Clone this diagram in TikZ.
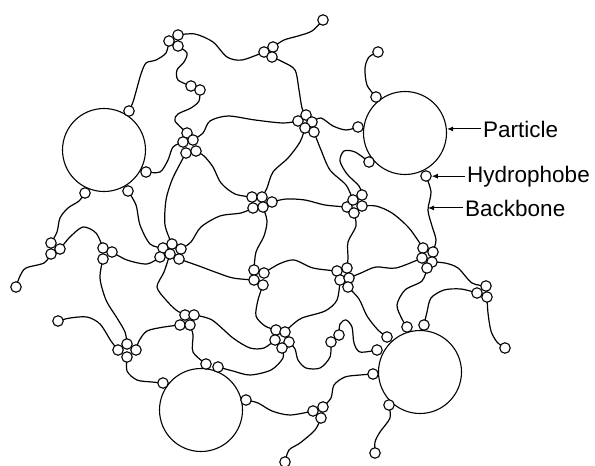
\documentclass[tikz,border=0pt]{standalone}
\usepackage{fontspec}
\setmainfont{Liberation Sans}
\usepackage{tikz}
\usetikzlibrary{arrows.meta,backgrounds}

\tikzset{
    hyd/.style={circle, draw, fill=white, line width=1.1pt, inner sep=0pt, minimum size=10.5pt},
    particle/.style={circle, draw, fill=white, line width=1.1pt, inner sep=0pt, minimum size=83pt},
    chain/.style={line width=1.2pt, line join=round, line cap=round},
    lbl/.style={anchor=base west, inner sep=0pt, font=\fontsize{22.5}{26}\selectfont},
    ptr/.style={line width=1pt, -{Latex[length=6pt,width=5pt]}}
}

\begin{document}
\begin{tikzpicture}[x=1pt, y=-1pt]
    \useasboundingbox (0,0) rectangle (595,466);

    % particles
    \node[particle] (pA) at (104,150) {};
    \node[particle] (pB) at (405,133) {};
    \node[particle] (pC) at (201,410) {};
    \node[particle] (pD) at (420,372) {};

    % hydrophobes stuck on the particles
    \foreach \n/\x/\y in {a1/129/111, a2/146/172, a3/85/193, a4/128/191,
                          b1/376/97, b2/358/127, b3/369/162, b4/426/176,
                          c1/163/383, c2/206/364, c3/218/367, c4/246/400,
                          d1/387/337, d2/407/327, d3/424/325, d4/377/350, d5/373/374, d6/389/405}
        \node[hyd] (\n) at (\x,\y) {};

    % dangling chain ends
    \foreach \n/\x/\y in {e1/323/20, e2/378/52, e3/16/287, e4/58/321,
                          e5/505/348, e6/375/453, e7/285/462}
        \node[hyd] (\n) at (\x,\y) {};

    % micelle junctions
    \foreach \n/\x/\y in {m1a/169/41, m1b/178/35, m1c/178/46,
                          m2a/264/52, m2b/273/47, m2c/272/57,
                          m3a/191/86, m3b/200/90,
                          m4a/187/133, m4b/183/142, m4c/193/140, m4d/186/153, m4e/196/151,
                          m5a/252/197, m5b/262/197, m5c/272/202, m5d/253/208, m5e/263/207,
                          m6a/298/121, m6b/306/115, m6c/312/122, m6d/305/128, m6e/314/132,
                          m7a/347/207, m7b/353/200, m7c/362/195, m7d/362/206, m7e/354/213,
                          m8a/163/248, m8b/172/244, m8c/181/249, m8d/170/254, m8e/179/259, m8f/160/257,
                          m9a/103/248, m9b/112/252, m9c/103/259,
                          m10a/51/243, m10b/60/249, m10c/51/254,
                          m11a/185/315, m11b/194/315, m11c/180/325, m11d/190/325,
                          m12a/254/270, m12b/264/273, m12c/254/280, m12d/263/285,
                          m13a/276/330, m13b/285/332, m13c/275/340, m13d/289/342, m13e/282/348,
                          m14a/118/350, m14b/127/344, m14c/136/350, m14d/127/357,
                          m15a/337/271, m15b/347/268, m15c/340/280, m15d/349/278, m15e/348/287,
                          m16a/331/342, m16b/339/335,
                          m17a/423/248, m17b/433/252, m17c/422/258, m17d/432/262, m17e/427/268,
                          m18a/477/293, m18b/486/286, m18c/487/297,
                          m19a/313/411, m19b/323/407, m19c/321/418}
        \node[hyd] (\n) at (\x,\y) {};

    % backbones
    \begin{scope}[on background layer]
    \begin{scope}[chain]
        \draw plot[smooth] coordinates {(m1b.center) (195,34) (213,42) (227,57) (242,60) (m2a.center)};
        \draw plot[smooth] coordinates {(m1a.center) (166,53) (156,60) (146,63) (141,74) (137,88) (133,102) (a1.center)};
        \draw plot[smooth] coordinates {(m1c.center) (187,53) (184,62) (177,70) (178,80) (m3a.center)};
        \draw plot[smooth] coordinates {(m3b.center) (199,101) (191,108) (178,114) (175,121) (m4a.center)};
        \draw plot[smooth] coordinates {(m2b.center) (284,40) (298,36) (312,31) (e1.center)};
        \draw plot[smooth] coordinates {(m2c.center) (283,62) (295,70) (299,90) (302,108) (m6b.center)};
        \draw plot[smooth] coordinates {(m4c.center) (203,133) (210,121) (228,116) (255,120) (283,123) (m6a.center)};
        \draw plot[smooth] coordinates {(m4b.center) (173,147) (168,160) (160,172) (a2.center)};
        \draw plot[smooth] coordinates {(m4d.center) (181,162) (172,180) (166,200) (165,225) (m8b.center)};
        \draw plot[smooth] coordinates {(m4e.center) (204,156) (213,167) (221,183) (235,194) (m5a.center)};
        \draw plot[smooth] coordinates {(a3.center) (79,201) (68,208) (60,218) (57,232) (m10a.center)};
        \draw plot[smooth] coordinates {(a4.center) (136,205) (140,225) (150,244) (m8a.center)};
        \draw plot[smooth] coordinates {(m8c.center) (191,242) (201,227) (220,216) (241,213) (m5d.center)};
        \draw plot[smooth] coordinates {(m5c.center) (286,199) (305,200) (325,205) (m7a.center)};
        \draw plot[smooth] coordinates {(m5b.center) (267,188) (273,172) (288,158) (300,142) (m6d.center)};
        \draw plot[smooth] coordinates {(m5e.center) (267,221) (264,236) (256,252) (m12a.center)};
        \draw plot[smooth] coordinates {(m6c.center) (321,118) (333,126) (346,130) (b2.center)};
        \draw plot[smooth] coordinates {(m6e.center) (321,150) (330,170) (346,185) (m7b.center)};
        \draw plot[smooth] coordinates {(b3.center) (355,152) (344,151) (340,161) (347,174) (359,186) (m7c.center)};
        \draw plot[smooth] coordinates {(b1.center) (367,85) (365,68) (369,57) (e2.center)};
        \draw plot[smooth] coordinates {(b4.center) (431,192) (428,210) (432,226) (436,240) (m17b.center)};
        \draw plot[smooth] coordinates {(m7d.center) (376,206) (392,213) (409,228) (m17a.center)};
        \draw plot[smooth] coordinates {(m7e.center) (356,226) (348,242) (348,258) (m15b.center)};
        \draw plot[smooth] coordinates {(m12b.center) (279,264) (294,260) (313,268) (m15a.center)};
        \draw plot[smooth] coordinates {(m8e.center) (199,266) (215,272) (233,278) (m12c.center)};
        \draw plot[smooth] coordinates {(m12d.center) (258,300) (256,316) (265,326) (m13a.center)};
        \draw plot[smooth] coordinates {(m15e.center) (359,299) (367,316) (378,330) (d1.center)};
        \draw plot[smooth] coordinates {(m15c.center) (337,300) (325,311) (302,318) (291,326) (m13b.center)};
        \draw plot[smooth] coordinates {(m17d.center) (445,263) (458,268) (472,283) (m18b.center)};
        \draw plot[smooth] coordinates {(m17e.center) (422,281) (405,290) (397,305) (402,319) (d2.center)};
        \draw plot[smooth] coordinates {(d3.center) (427,312) (431,298) (444,290) (461,289) (m18a.center)};
        \draw plot[smooth] coordinates {(m18c.center) (488,313) (491,331) (497,342) (e5.center)};
        \draw plot[smooth] coordinates {(m15d.center) (361,273) (376,267) (396,268) (m17c.center)};
        \draw plot[smooth] coordinates {(m13d.center) (295,349) (298,360) (306,368) (320,368) (330,357) (m16a.center)};
        \draw plot[smooth] coordinates {(m16b.center) (340,324) (346,320) (352,327) (354,343) (360,352) (d4.center)};
        \draw plot[smooth] coordinates {(m11b.center) (212,320) (233,338) (250,348) (264,348) (m13c.center)};
        \draw plot[smooth] coordinates {(m8d.center) (164,272) (157,287) (166,300) (176,310) (m11a.center)};
        \draw plot[smooth] coordinates {(m11c.center) (164,327) (147,331) (139,341) (m14c.center)};
        \draw plot[smooth] coordinates {(m11d.center) (193,335) (193,352) (c2.center)};
        \draw plot[smooth] coordinates {(m9c.center) (100,278) (106,300) (117,318) (125,332) (m14b.center)};
        \draw plot[smooth] coordinates {(m14a.center) (111,341) (100,324) (87,317) (70,318) (e4.center)};
        \draw plot[smooth] coordinates {(m14d.center) (127,371) (137,380) (152,382) (c1.center)};
        \draw plot[smooth] coordinates {(m10c.center) (44,263) (26,268) (20,276) (e3.center)};
        \draw plot[smooth] coordinates {(m10b.center) (70,237) (83,227) (96,233) (m9a.center)};
        \draw plot[smooth] coordinates {(m9b.center) (127,260) (147,264) (m8f.center)};
        \draw plot[smooth] coordinates {(c3.center) (233,371) (250,375) (271,370) (283,358) (m13e.center)};
        \draw plot[smooth] coordinates {(c4.center) (258,403) (272,411) (290,415) (m19a.center)};
        \draw plot[smooth] coordinates {(m19b.center) (331,398) (334,385) (345,377) (360,375) (d5.center)};
        \draw plot[smooth] coordinates {(m19c.center) (315,430) (300,443) (289,450) (e7.center)};
        \draw plot[smooth] coordinates {(d6.center) (390,418) (380,432) (375,442) (e6.center)};
    \end{scope}
    \end{scope}

    % labels
    \coordinate (bbk) at (428,210);
    \node[lbl] (tPart) at (483,137) {Particle};
    \node[lbl] (tHyd) at (467,182) {Hydrophobe};
    \node[lbl] (tBack) at (465,216) {Backbone};

    \draw[ptr] ([xshift=-2pt]tPart.west) -- (tPart.west -| pB.east);
    \draw[ptr] ([xshift=-2pt]tHyd.west) -- (tHyd.west -| b4.east);
    \draw[ptr] ([xshift=-2pt]tBack.west) -- (tBack.west -| bbk);
\end{tikzpicture}
\end{document}
